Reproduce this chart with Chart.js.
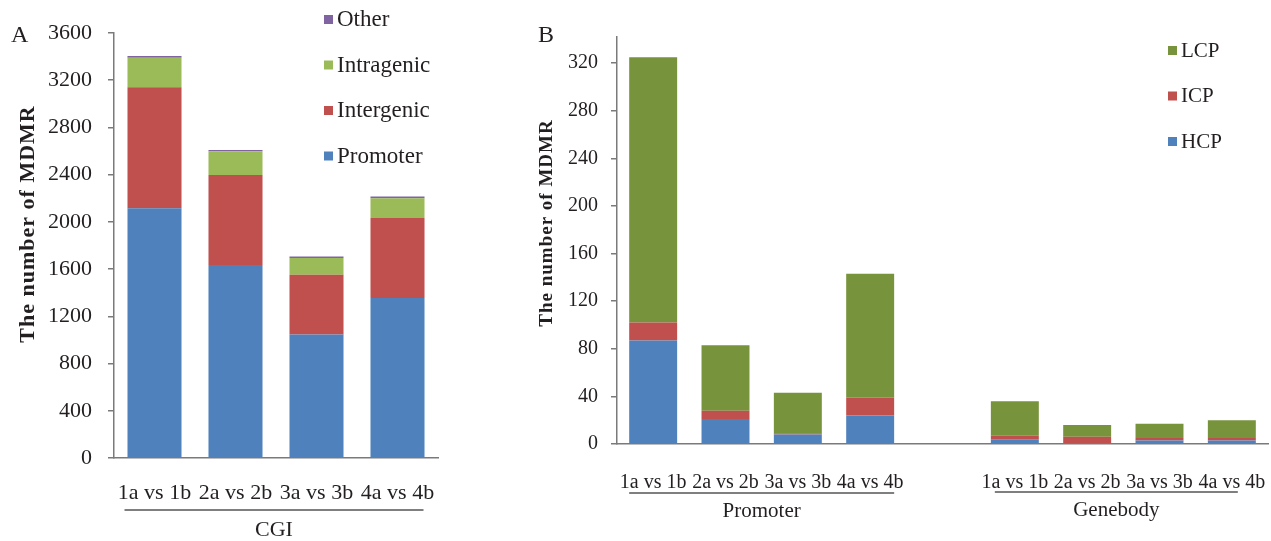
<!DOCTYPE html>
<html>
<head>
<meta charset="utf-8">
<script src="https://cdn.jsdelivr.net/npm/chart.js@4.4.0/dist/chart.umd.min.js"></script>
<style>
  body { margin: 0; background: #fff; width: 1271px; height: 541px; overflow: hidden; position: relative; }
  canvas { position: absolute; top: 0; }
  #chartA { left: 0; }
  #chartB { left: 520px; }
</style>
</head>
<body>
<canvas id="chartA" width="470" height="541"></canvas>
<canvas id="chartB" width="751" height="541"></canvas>
<script>
// panel A - CGI
const cgiLabels = ['1a vs 1b', '2a vs 2b', '3a vs 3b', '4a vs 4b'];
const cgiPromoter = [2115, 1635, 1046, 1355];
const cgiIntergenic = [1025, 763, 507, 678];
const cgiIntragenic = [250, 200, 141, 168];
const cgiOther = [15, 12, 12, 14];
const cgiTicks = [0, 400, 800, 1200, 1600, 2000, 2400, 2800, 3200, 3600];

// panel B - promoter / genebody, one empty slot between the groups
const cpLabels = ['1a vs 1b', '2a vs 2b', '3a vs 3b', '4a vs 4b', '', '1a vs 1b', '2a vs 2b', '3a vs 3b', '4a vs 4b'];
const hcp = [87, 21, 8, 24, null, 4, 0, 3, 3];
const icp = [15, 7, 1, 15, null, 3, 6, 2, 2];
const lcp = [223, 55, 34, 104, null, 29, 10, 12, 15];
const cpTicks = [0, 40, 80, 120, 160, 200, 240, 280, 320];

const SERIF = "'Liberation Serif', 'Times New Roman', serif";
const TXT = '#231f20';
const AXIS = '#7a7a7a';

const decor = {
  id: 'decor',
  afterDraw(chart, args, o) {
    const ctx = chart.ctx;
    const x = chart.scales.x;
    ctx.save();
    ctx.fillStyle = TXT;

    // panel letter
    ctx.font = '24px ' + SERIF;
    ctx.textAlign = 'left';
    ctx.textBaseline = 'middle';
    ctx.fillText(o.letter[0], o.letter[1], o.letter[2]);

    // y title
    ctx.save();
    ctx.translate(o.yTitle[1], o.yTitle[2]);
    ctx.rotate(-Math.PI / 2);
    ctx.font = 'bold ' + o.yTitle[3] + 'px ' + SERIF;
    ctx.letterSpacing = '1px';
    ctx.textAlign = 'center';
    ctx.fillText(o.yTitle[0], 0, 0);
    ctx.restore();

    // group lines and labels under the categories
    ctx.font = o.groupFont + 'px ' + SERIF;
    ctx.textAlign = 'center';
    o.groups.forEach(g => {
      const x0 = x.getPixelForValue(g.from) - g.padL;
      const x1 = x.getPixelForValue(g.to) + g.padR;
      ctx.strokeStyle = '#555';
      ctx.lineWidth = 1.3;
      ctx.beginPath();
      ctx.moveTo(x0, g.lineY);
      ctx.lineTo(x1, g.lineY);
      ctx.stroke();
      ctx.fillText(g.text, (x0 + x1) / 2, g.textY);
    });

    // legend, top item first (reverse of stack order)
    ctx.font = o.legend.font + 'px ' + SERIF;
    ctx.textAlign = 'left';
    const ds = chart.data.datasets.slice().reverse();
    ds.forEach((d, i) => {
      const cy = o.legend.y + i * o.legend.gap;
      ctx.fillStyle = d.backgroundColor;
      ctx.fillRect(o.legend.x, cy - 5, 9, 9);
      ctx.fillStyle = TXT;
      ctx.fillText(d.label, o.legend.x + 13, cy);
    });
    ctx.restore();
  }
};

function yScale(max, ticks, font, pad, width) {
  return {
    stacked: true,
    min: 0,
    max: max,
    afterBuildTicks: s => { s.ticks = ticks.map(v => ({ value: v })); },
    afterFit: s => { s.width = width; },
    border: { display: true, color: AXIS, width: 1.5 },
    grid: { drawOnChartArea: false, drawTicks: true, tickLength: 6, color: AXIS, lineWidth: 1.5 },
    ticks: { font: { family: SERIF, size: font }, color: TXT, padding: pad, callback: v => String(v) }
  };
}

// invisible tick marks push the labels down without adding edge padding
function xScale(font, gap, height) {
  return {
    stacked: true,
    afterFit: s => { s.height = height; },
    border: { display: true, color: AXIS, width: 1.5 },
    grid: { display: true, drawOnChartArea: false, drawTicks: true, tickLength: gap, tickColor: 'rgba(0,0,0,0)' },
    ticks: { font: { family: SERIF, size: font }, color: TXT, padding: 0, maxRotation: 0, autoSkip: false }
  };
}

new Chart(document.getElementById('chartA'), {
  type: 'bar',
  data: {
    labels: cgiLabels,
    datasets: [
      { label: 'Promoter', data: cgiPromoter, backgroundColor: '#4f81bd' },
      { label: 'Intergenic', data: cgiIntergenic, backgroundColor: '#c0504d' },
      { label: 'Intragenic', data: cgiIntragenic, backgroundColor: '#9bbb59' },
      { label: 'Other', data: cgiOther, backgroundColor: '#8064a2' }
    ]
  },
  options: {
    responsive: false,
    animation: false,
    layout: { padding: { top: 33, right: 32, left: 0, bottom: 0 } },
    datasets: { bar: { categoryPercentage: 1, barPercentage: 0.667 } },
    scales: {
      x: xScale(22, 22, 83),
      y: yScale(3600, cgiTicks, 22, 16, 114)
    },
    plugins: {
      legend: { display: false },
      tooltip: { enabled: false },
      decor: {
        letter: ['A', 11, 36],
        yTitle: ['The number of MDMR', 28, 224, 22],
        groupFont: 22,
        groups: [{ text: 'CGI', from: 0, to: 3, padL: 30, padR: 26, lineY: 510, textY: 530 }],
        legend: { x: 324, y: 20, gap: 45.5, font: 23 }
      }
    }
  },
  plugins: [decor]
});

new Chart(document.getElementById('chartB'), {
  type: 'bar',
  data: {
    labels: cpLabels,
    datasets: [
      { label: 'HCP', data: hcp, backgroundColor: '#4f81bd' },
      { label: 'ICP', data: icp, backgroundColor: '#c0504d' },
      { label: 'LCP', data: lcp, backgroundColor: '#77933c' }
    ]
  },
  options: {
    responsive: false,
    animation: false,
    layout: { padding: { top: 37, right: 3, left: 0, bottom: 0 } },
    datasets: { bar: { categoryPercentage: 1, barPercentage: 0.663 } },
    scales: {
      x: xScale(20, 27, 97),
      y: yScale(342, cpTicks, 20, 13, 97)
    },
    plugins: {
      legend: { display: false },
      tooltip: { enabled: false },
      decor: {
        letter: ['B', 18, 36],
        yTitle: ['The number of MDMR', 27, 223, 19],
        groupFont: 21,
        groups: [
          { text: 'Promoter', from: 0, to: 3, padL: 24, padR: 24, lineY: 493, textY: 511 },
          { text: 'Genebody', from: 5, to: 8, padL: 20, padR: 6, lineY: 492, textY: 510 }
        ],
        legend: { x: 648, y: 51, gap: 45.5, font: 21 }
      }
    }
  },
  plugins: [decor]
});
</script>
</body>
</html>
